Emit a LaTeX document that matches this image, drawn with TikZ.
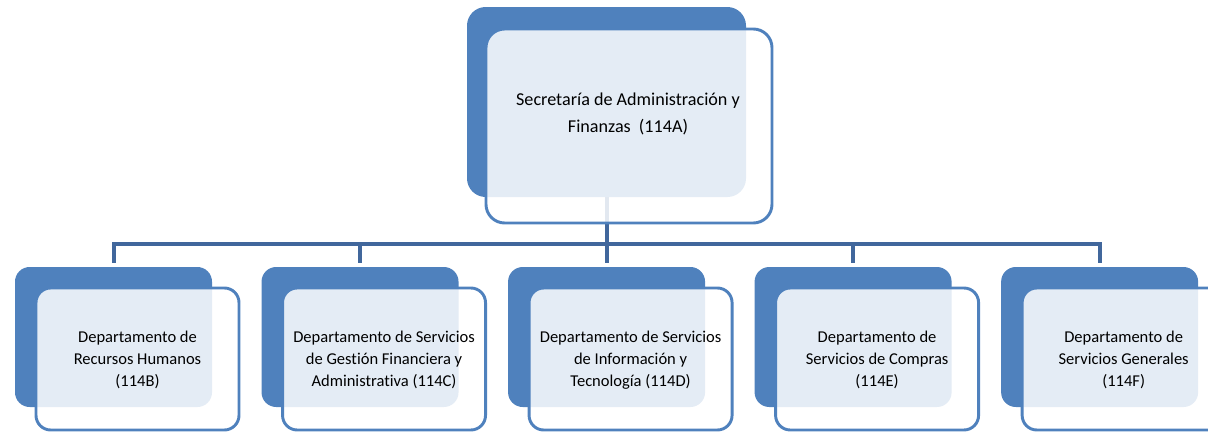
\documentclass[tikz,border=0pt]{standalone}
\usepackage{fontspec}
\setmainfont{Carlito}[Ligatures=CommonOff]
\usetikzlibrary{positioning}
\definecolor{boxblue}{HTML}{4F81BD}
\definecolor{lineblue}{HTML}{41679C}

\begin{document}
\begin{tikzpicture}[x=0.75pt, y=-0.75pt,
	back/.style={fill=boxblue, rounded corners=11pt, inner sep=0pt,
		minimum width=147.75pt, minimum height=105pt},
	front/.style={draw=boxblue, line width=2.2pt, rounded corners=11pt,
		fill=white, fill opacity=0.85, text opacity=1, inner sep=0pt,
		minimum width=152.25pt, minimum height=106.5pt, align=center,
		text depth=0pt, font=\fontsize{12.4}{16.5}\selectfont},
	link/.style={draw=lineblue, line width=3pt}]
	\clip (0,0) rectangle (1208,432);

	% back boxes
	\node[back, rounded corners=14pt, minimum width=209.25pt, minimum height=142.5pt] (sec) at (606.5,102) {};
	\node[back] (rh) at (113.5,337) {};
	\node[back, right=36.75pt of rh] (gf) {};
	\node[back, right=36.75pt of gf] (ti) {};
	\node[back, right=36.75pt of ti] (co) {};
	\node[back, right=36.75pt of co] (sg) {};

	% connectors
	\draw[link] (sec.south) -- ++(0,47) coordinate (bus);
	\foreach \d in {rh,gf,ti,co,sg}
		\draw[link, shorten >=3pt] (bus) -| (\d.north);

	% front boxes
	\node[front, rounded corners=14pt, minimum width=214.5pt, minimum height=145.5pt] (secF) at ([shift={(22.5,24)}]sec.center) {};
	\node[font=\fontsize{13.6}{20.25}\selectfont, align=center] (sectext) at (628,114)
		{Secretaría de Administración y\\Finanzas~~(114A)};
	\node[front] (rhF) at ([shift={(24,22)}]rh.center) {Departamento de\\Recursos Humanos\\(114B)};
	\node[front] (gfF) at ([shift={(24,22)}]gf.center) {Departamento de Servicios\\de Gestión Financiera y\\Administrativa (114C)};
	\node[front] (tiF) at ([shift={(24,22)}]ti.center) {Departamento de Servicios\\de Información y\\Tecnología (114D)};
	\node[front] (coF) at ([shift={(24,22)}]co.center) {Departamento de\\Servicios de Compras\\(114E)};
	\node[front] (sgF) at ([shift={(24,22)}]sg.center) {Departamento de\\Servicios Generales\\(114F)};
\end{tikzpicture}
\end{document}
